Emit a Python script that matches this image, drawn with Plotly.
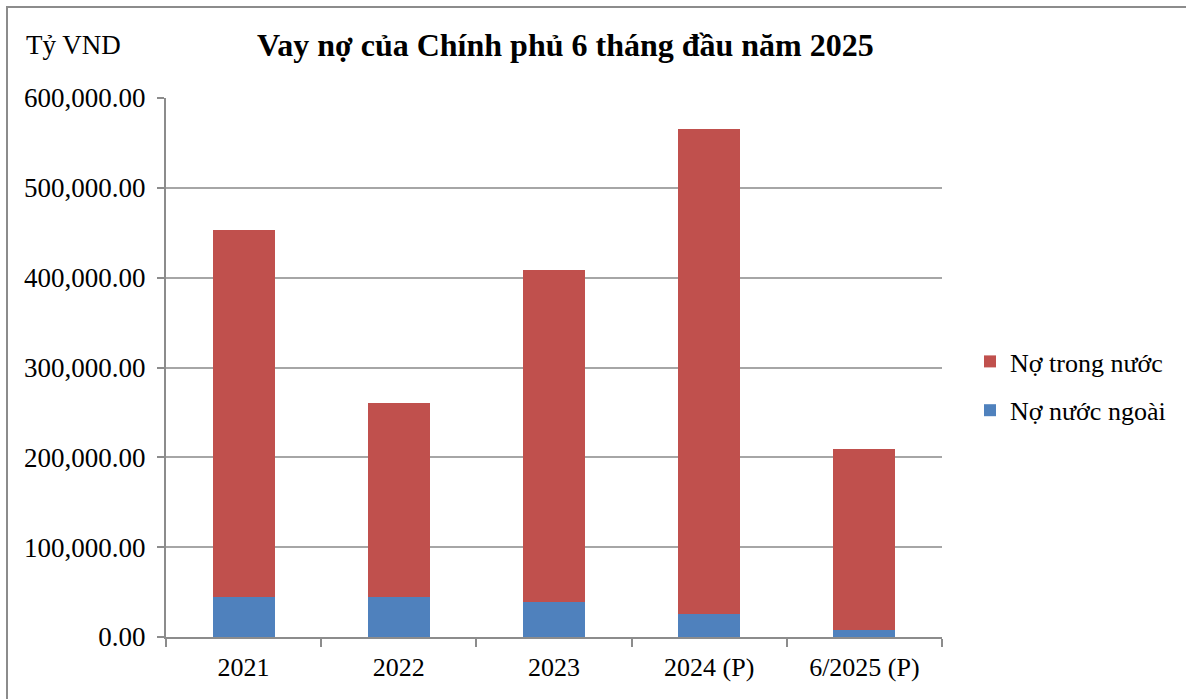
import plotly.graph_objects as go

categories = ["2021", "2022", "2023", "2024 (P)", "6/2025 (P)"]
no_nuoc_ngoai = [44000, 45000, 38500, 26000, 7500]
no_trong_nuoc = [409000, 215000, 370500, 539000, 201500]
series_names = ["Nợ nước ngoài", "Nợ trong nước"]
title_text = "Vay nợ của Chính phủ 6 tháng đầu năm 2025"
unit_text = "Tỷ VND"

FONT = "Liberation Serif, Times New Roman, serif"
W, H = 1186, 699
# target plot area in screenshot pixels
PX0, PX1, PY0, PY1 = 166, 942, 98, 637
L, T = PX0, PY0
R, B = W - PX1, H - PY1
pw, ph = W - L - R, H - T - B

def px_x(p):
    return (p - L) / pw

def px_y(p):
    return (H - B - p) / ph

fig = go.Figure()
fig.add_trace(go.Bar(x=categories, y=no_nuoc_ngoai, name=series_names[0],
                     marker=dict(color="#4F81BD", line=dict(width=0)),
                     legendgroup="a", legendrank=2))
fig.add_trace(go.Bar(x=categories, y=no_trong_nuoc, name=series_names[1],
                     marker=dict(color="#C0504D", line=dict(width=0)),
                     legendgroup="b", legendrank=1))

fig.update_layout(
    width=W, height=H,
    margin=dict(l=L, r=R, t=T, b=B),
    barmode="stack", bargap=0.6,
    plot_bgcolor="white", paper_bgcolor="white",
    font=dict(family=FONT, size=27, color="black"),
    showlegend=True,
    legend=dict(x=px_x(970), y=px_y(386), xanchor="left", yanchor="middle",
                traceorder="grouped", tracegroupgap=12, itemwidth=30,
                font=dict(family=FONT, size=26, color="black"),
                bgcolor="rgba(0,0,0,0)"),
    xaxis=dict(showline=True, linecolor="#8c8c8c", linewidth=2,
               ticks="outside", tickson="boundaries", ticklen=8,
               tickcolor="#8c8c8c", tickwidth=2,
               tickfont=dict(family=FONT, size=26), showgrid=False,
               ticklabelstandoff=6),
    yaxis=dict(range=[0, 600000], dtick=100000, tickformat=",.2f",
               showline=True, linecolor="#8c8c8c", linewidth=2,
               ticks="outside", ticklen=7, tickcolor="#8c8c8c", tickwidth=2,
               showgrid=True, gridcolor="#a6a6a6", gridwidth=2,
               tickfont=dict(family=FONT, size=27), zeroline=False,
               ticklabelstandoff=6),
)

fig.add_annotation(text="<b>" + title_text + "</b>", xref="paper", yref="paper",
                   x=px_x(565), y=px_y(45), xanchor="center", yanchor="middle",
                   showarrow=False, font=dict(family=FONT, size=32, color="black"))
fig.add_annotation(text=unit_text, xref="paper", yref="paper",
                   x=px_x(24), y=px_y(45), xanchor="left", yanchor="middle",
                   showarrow=False, font=dict(family=FONT, size=27, color="black"))

fig.add_shape(type="rect", xref="paper", yref="paper",
              x0=px_x(7), x1=px_x(1200), y0=px_y(720), y1=px_y(7),
              line=dict(color="#8c8c8c", width=2), fillcolor="rgba(0,0,0,0)",
              layer="below")

fig.write_html("out.html",
               config={"displayModeBar": False},
               post_script="document.body.style.margin='0';"
                           "document.body.style.overflow='hidden';")
